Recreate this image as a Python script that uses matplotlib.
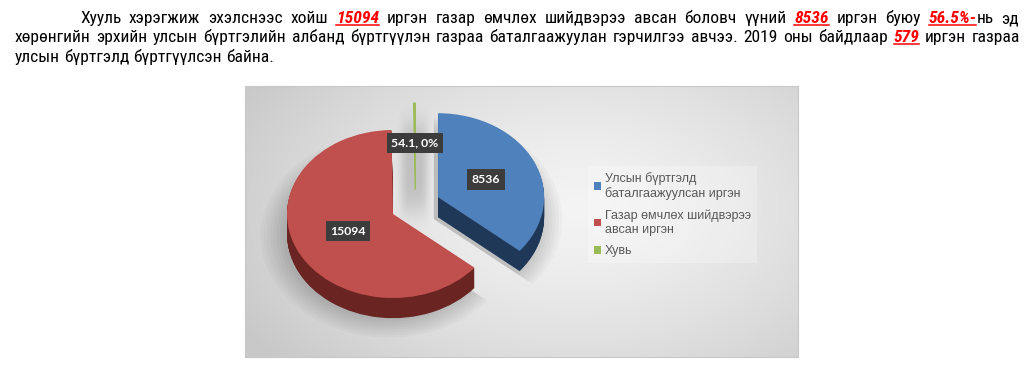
import numpy as np
import matplotlib
matplotlib.use('Agg')
import matplotlib.pyplot as plt
from matplotlib import font_manager
from matplotlib.font_manager import FontProperties
from matplotlib.patches import Rectangle

W, H = 1033, 367

# Data.
values = [8536, 15094, 54.1]
series_names = ['Улсын бүртгэлд\nбаталгаажуулсан иргэн',
                'Газар өмчлөх шийдвэрээ\nавсан иргэн',
                'Хувь']
value_labels = ['8536', '15094', '54.1, 0%']

# Paragraph above the chart (*...* = red bold italic underlined).
paragraph_lines = [
    'Хууль хэрэгжиж эхэлснээс хойш *15094* иргэн газар өмчлөх шийдвэрээ авсан боловч үүний *8536* иргэн буюу *56.5%-*нь эд',
    'хөрөнгийн эрхийн улсын бүртгэлийн албанд бүртгүүлэн газраа баталгаажуулан гэрчилгээ авчээ. 2019 оны байдлаар *579* иргэн газраа',
    'улсын бүртгэлд бүртгүүлсэн байна.',
]

# Styles.
TOP_COLORS  = ['#4f81bd', '#c0504d', '#9bbb59']
SIDE_COLORS = ['#1f3858', '#6a2422', 'none']
EXPLODE     = [0.47, 0.0, 0.0]


def pick_narrow_font():
    names = {f.name for f in font_manager.fontManager.ttflist}
    for cand in ['Liberation Sans Narrow', 'Arial Narrow', 'Roboto Condensed', 'Open Sans Condensed']:
        if cand in names:
            return FontProperties(family=cand)
    for f in font_manager.fontManager.ttflist:
        if f.name == 'DejaVu Sans' and 'condensed' in str(f.stretch):
            return FontProperties(family='DejaVu Sans', stretch='condensed')
    return FontProperties(family='Liberation Sans')


fig = plt.figure(figsize=(W / 100, H / 100), dpi=100)
fig.patch.set_facecolor('white')

# Overlay axes in pixel coordinates for the paragraph.
ov = fig.add_axes([0, 0, 1, 1])
ov.set_xlim(0, W)
ov.set_ylim(H, 0)
ov.axis('off')

renderer = fig.canvas.get_renderer()
base_fp = pick_narrow_font()
base_fp.set_size(12.6)
hl_fp = base_fp.copy()
hl_fp.set_weight('bold')
hl_fp.set_style('italic')

line_x0 = [80, 15, 15]
line_x1 = [1019, 1020, None]
line_base = [23, 42, 62]


def measure(txt, fp):
    t = ov.text(0, 0, txt, fontproperties=fp)
    w = t.get_window_extent(renderer).width
    t.remove()
    return w


space_w = measure('a a', base_fp) - measure('aa', base_fp)

for li, line in enumerate(paragraph_lines):
    words = []
    for word in line.split(' '):
        parts = word.split('*')
        segs = [(p, i % 2 == 1) for i, p in enumerate(parts) if p]
        words.append([(s, hl, measure(s, hl_fp if hl else base_fp)) for s, hl in segs])
    widths = [sum(s[2] for s in w) for w in words]
    if line_x1[li] is not None and len(words) > 1:
        gap = (line_x1[li] - line_x0[li] - sum(widths)) / (len(words) - 1)
    else:
        gap = space_w
    x = line_x0[li]
    y = line_base[li]
    for w, ww in zip(words, widths):
        for s, hl, sw in w:
            if hl:
                ov.text(x, y, s, fontproperties=hl_fp, color='#ff0000', va='baseline', ha='left')
                ov.plot([x, x + sw], [y + 2.2, y + 2.2], color='#ff0000', lw=1.1)
            else:
                ov.text(x, y, s, fontproperties=base_fp, color='black', va='baseline', ha='left')
            x += sw
        x += gap

# Chart area with light radial gradient.
cx0, cy0, cx1, cy1 = 245, 86, 798, 357
chart_ax = fig.add_axes([cx0 / W, 1 - cy1 / H, (cx1 - cx0) / W, (cy1 - cy0) / H])
gx, gy = np.meshgrid(np.linspace(0, 1, 300), np.linspace(0, 1, 150))
dist = np.sqrt(((gx - 0.6) / 0.7) ** 2 + ((gy - 0.55) / 0.9) ** 2)
shade = 0.955 - 0.17 * np.clip(dist, 0, 1) ** 1.4
chart_ax.imshow(np.dstack([shade] * 3), extent=[0, 1, 0, 1], origin='lower', aspect='auto')
chart_ax.set_xlim(0, 1)
chart_ax.set_ylim(0, 1)
chart_ax.set_xticks([])
chart_ax.set_yticks([])
for sp in chart_ax.spines.values():
    sp.set_color('#c8c8c8')
    sp.set_linewidth(0.8)

# Pie axes: ellipse with rx=106px, ry=84px centred at (393, 214).
pcx, pcy, rx, ry = 393, 214, 106, 84
ext = 1.6
pie_ax = fig.add_axes([(pcx - ext * rx) / W, 1 - (pcy + ext * ry) / H,
                       2 * ext * rx / W, 2 * ext * ry / H])
pie_ax.patch.set_alpha(0)

# Soft shadow.
for k in range(8):
    r = 1.0 + 0.03 * k
    pie_ax.pie(values, explode=EXPLODE, startangle=90, counterclock=False,
               radius=r, center=(-0.04, -0.26), colors=['black', 'black', 'none'],
               wedgeprops=dict(alpha=0.022, linewidth=0))

# soft gray haze behind the small slice
bx, by = np.meshgrid(np.linspace(-0.3, 0.7, 120), np.linspace(-0.4, 1.5, 200))
blob = np.exp(-((bx - 0.2) / 0.13) ** 4 - ((by - 0.55) / 0.55) ** 4)
haze = np.zeros(bx.shape + (4,))
haze[..., 3] = 0.16 * blob
pie_ax.imshow(haze, extent=[-0.3, 0.7, -0.4, 1.5], origin='lower', aspect='auto', zorder=0.5)

# Side depth layers.
depth = 0.24
n_layers = 24
for k in range(n_layers, 0, -1):
    dz = depth * k / n_layers
    pie_ax.pie(values, explode=EXPLODE, startangle=90, counterclock=False,
               center=(0, -dz), colors=SIDE_COLORS,
               wedgeprops=dict(linewidth=0))

# Top faces.
wedges, _ = pie_ax.pie(values, explode=EXPLODE, startangle=90, counterclock=False,
                       colors=TOP_COLORS, wedgeprops=dict(linewidth=0))
wedges[2].set_center((0.21, 0.29))
wedges[2].set_edgecolor(TOP_COLORS[2])
wedges[2].set_linewidth(1.0)
wedges[2].set_radius(1.03)

label_r = [0.5, 0.47, 0.555]
for wdg, txt, r in zip(wedges, value_labels, label_r):
    mid = np.deg2rad((wdg.theta1 + wdg.theta2) / 2)
    x = wdg.center[0] + r * np.cos(mid)
    y = wdg.center[1] + r * np.sin(mid)
    pie_ax.text(x, y, txt, ha='center', va='center', color='white',
                fontsize=8.8, fontweight='bold', family='Lato',
                bbox=dict(boxstyle='square,pad=0.38', fc='#3c3c3c', ec='none'))

pie_ax.set_aspect('auto')
pie_ax.set_xlim(-ext, ext)
pie_ax.set_ylim(-ext, ext)
pie_ax.axis('off')

# Legend.
handles = [Rectangle((0, 0), 1, 1, color=c) for c in TOP_COLORS]
leg = chart_ax.legend(handles, series_names, loc='upper left',
                      bbox_to_anchor=((588 - cx0) / (cx1 - cx0), (cy1 - 166) / (cy1 - cy0)),
                      frameon=True, fancybox=False, handlelength=0.55, handleheight=0.55,
                      handletextpad=0.3, labelspacing=0.75, borderpad=0.5,
                      prop=FontProperties(family='Liberation Sans', size=9.0),
                      labelcolor='#595959', borderaxespad=0)
leg.get_frame().set_facecolor('white')
leg.get_frame().set_alpha(0.25)
leg.get_frame().set_edgecolor('none')
for h in leg.legend_handles:
    h.set_edgecolor('none')

fig.savefig('out.png', dpi=100)
